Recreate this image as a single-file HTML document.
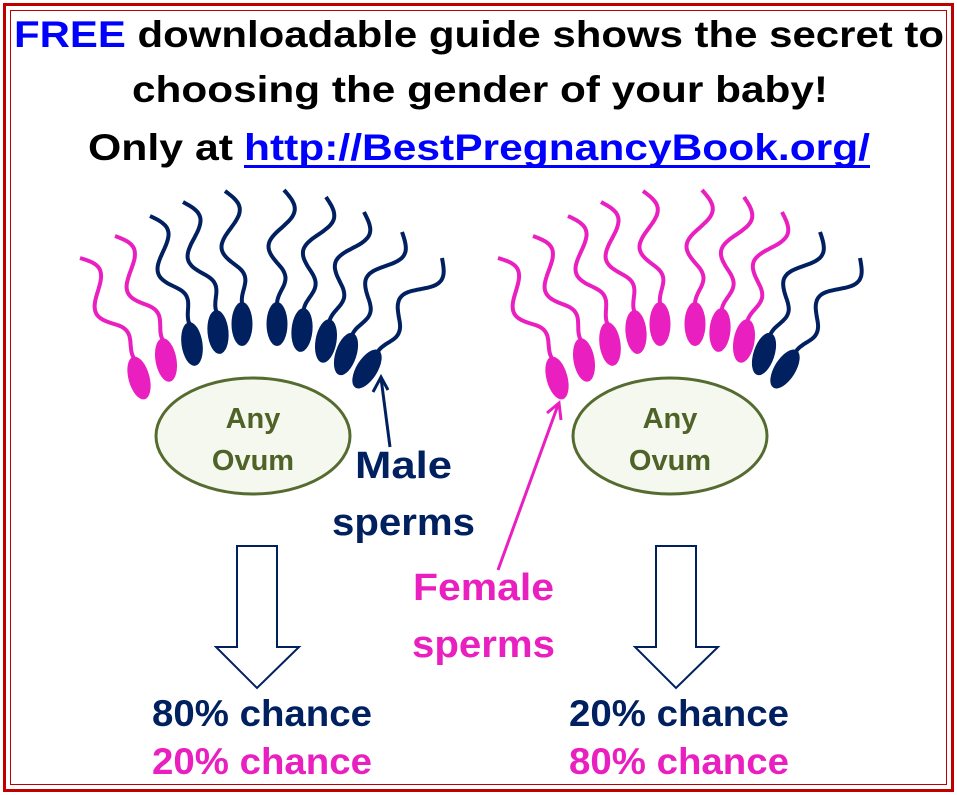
<!DOCTYPE html>
<html><head><meta charset="utf-8"><style>html,body{margin:0;padding:0;background:#fff}svg{display:block}</style></head>
<body>
<svg id="s" width="957" height="795" viewBox="0 0 957 795" xmlns="http://www.w3.org/2000/svg" font-family="'Liberation Sans', sans-serif" font-weight="bold">
<rect x="0" y="0" width="957" height="795" fill="#fff"/>
<rect x="4.5" y="4.5" width="948" height="786" fill="none" stroke="#c00000" stroke-width="3"/>
<rect x="10.5" y="10.5" width="936" height="774" fill="none" stroke="#c00000" stroke-width="1"/>
<text x="14" y="47" font-size="37" textLength="930" lengthAdjust="spacingAndGlyphs" fill="#000"><tspan fill="#0000ff">FREE</tspan> downloadable guide shows the secret to</text>
<text x="132" y="102" font-size="37" textLength="696" lengthAdjust="spacingAndGlyphs" fill="#000">choosing the gender of your baby!</text>
<text x="88" y="160" font-size="37" textLength="145" lengthAdjust="spacingAndGlyphs" fill="#000">Only at</text>
<text x="244" y="160" font-size="37" textLength="626" lengthAdjust="spacingAndGlyphs" fill="#0000ff">http://BestPregnancyBook.org/</text>
<rect x="244" y="165" width="626" height="3" fill="#0000ff"/>
<g id="sp"></g>
<ellipse cx="253" cy="436" rx="97" ry="58" fill="#f4f8ee" stroke="#556b2f" stroke-width="3"/>
<ellipse cx="670" cy="436" rx="97" ry="58" fill="#f4f8ee" stroke="#556b2f" stroke-width="3"/>
<g font-size="29" fill="#4f6228" text-anchor="middle">
<text x="253" y="428">Any</text><text x="253" y="470">Ovum</text>
<text x="670" y="428">Any</text><text x="670" y="470">Ovum</text>
</g>
<g stroke="#002060" stroke-width="3" fill="none"><line x1="390" y1="447" x2="381" y2="378"/><polyline points="373,392 381,377 388,390"/></g>
<g stroke="#e91fbf" stroke-width="3" fill="none"><line x1="498" y1="570" x2="558" y2="405"/><polyline points="547,413 559,403 561,420"/></g>
<text x="355" y="478" font-size="38" textLength="97" lengthAdjust="spacingAndGlyphs" fill="#002060">Male</text>
<text x="332" y="535" font-size="38" textLength="143" lengthAdjust="spacingAndGlyphs" fill="#002060">sperms</text>
<text x="413" y="600" font-size="38" textLength="141" lengthAdjust="spacingAndGlyphs" fill="#e91fbf">Female</text>
<text x="412" y="657" font-size="38" textLength="143" lengthAdjust="spacingAndGlyphs" fill="#e91fbf">sperms</text>
<polygon points="237,546 277,546 277,647 299,647 257,688 216,647 237,647" fill="#fff" stroke="#002060" stroke-width="2"/>
<polygon points="656,546 696,546 696,647 718,647 676,688 635,647 656,647" fill="#fff" stroke="#002060" stroke-width="2"/>
<text x="152" y="726" font-size="37" textLength="220" lengthAdjust="spacingAndGlyphs" fill="#002060">80% chance</text>
<text x="152" y="774" font-size="37" textLength="220" lengthAdjust="spacingAndGlyphs" fill="#e91fbf">20% chance</text>
<text x="569" y="726" font-size="37" textLength="220" lengthAdjust="spacingAndGlyphs" fill="#002060">20% chance</text>
<text x="569" y="774" font-size="37" textLength="220" lengthAdjust="spacingAndGlyphs" fill="#e91fbf">80% chance</text>
</svg>
<script>
var N='#002060',P='#e91fbf';
var heads=[[139,378,-15,80,258],[166,360,-10,115,236],[192,344,-8,150,216],[218,332,-5,183,202],[242,324,0,225,191],[277,324,0,284,190],[302,330,5,326,197],[326,341,10,364,212],[346,354,18,402,232],[367,369,32,442,258]];
var out='';
function grp(dx,cols){
 heads.forEach(function(h,i){
  var cx=h[0]+dx,cy=h[1],a=h[2]*Math.PI/180,ex=h[3]+dx,ey=h[4];
  var sx=cx+Math.sin(a)*21,sy=cy-Math.cos(a)*21;
  var ddx=ex-sx,ddy=ey-sy,L=Math.sqrt(ddx*ddx+ddy*ddy),ux=ddx/L,uy=ddy/L,nx=-uy,ny=ux;
  var d='M'+sx.toFixed(1)+','+sy.toFixed(1);
  for(var k=1;k<=48;k++){var t=k/48;var w=Math.sin(t*Math.PI*3)*12*Math.min(1,t*3);
   d+=' L'+(sx+ddx*t+nx*w).toFixed(1)+','+(sy+ddy*t+ny*w).toFixed(1);}
  out+='<path d="'+d+'" fill="none" stroke="'+cols[i]+'" stroke-width="4" stroke-linejoin="round"/>';
  out+='<ellipse cx="'+cx+'" cy="'+cy+'" rx="10.5" ry="22" fill="'+cols[i]+'" transform="rotate('+h[2]+' '+cx+' '+cy+')"/>';
 });
}
grp(0,[P,P,N,N,N,N,N,N,N,N]);
grp(418,[P,P,P,P,P,P,P,P,N,N]);
document.getElementById('sp').innerHTML=out;
</script>
</body></html>
